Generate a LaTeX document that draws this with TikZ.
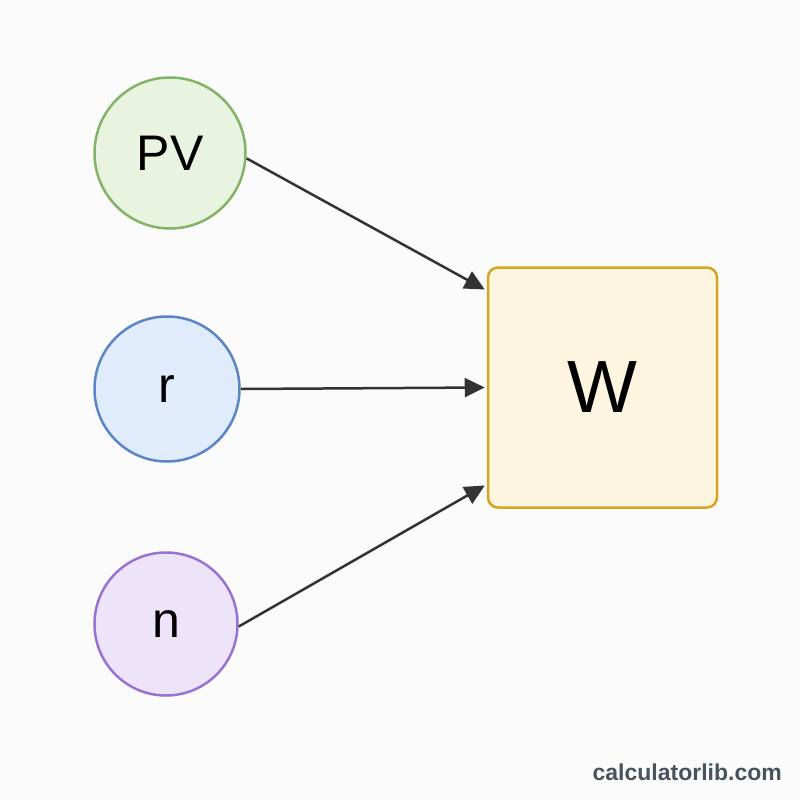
\documentclass[tikz,border=0pt]{standalone}
\usepackage{fontspec}
\setmainfont{Liberation Sans}
\usetikzlibrary{arrows.meta}
\definecolor{bgc}{HTML}{FBFBFB}
\definecolor{pvfill}{HTML}{E8F3E0}
\definecolor{pvdraw}{HTML}{82B366}
\definecolor{rfill}{HTML}{E0EBFC}
\definecolor{rdraw}{HTML}{5A86C6}
\definecolor{nfill}{HTML}{EDE4FA}
\definecolor{ndraw}{HTML}{9873D0}
\definecolor{wfill}{HTML}{FDF5E0}
\definecolor{wdraw}{HTML}{D6A520}
\definecolor{arr}{HTML}{333333}
\definecolor{mark}{HTML}{4A5260}
\tikzset{
  var/.style={circle, line width=2.5pt, inner sep=0pt, font=\fontsize{50}{56}\selectfont},
  res/.style={rectangle, rounded corners=10pt, line width=2.5pt, fill=wfill, draw=wdraw, inner sep=0pt, minimum width=229pt, minimum height=240pt, font=\fontsize{74}{80}\selectfont},
  conn/.style={line width=2.5pt, draw=arr, -{Triangle[length=20pt,width=19pt]}}
}
\begin{document}
\begin{tikzpicture}[x=1pt,y=-1pt]
\fill[bgc] (0,0) rectangle (800,800);
\useasboundingbox (0,0) rectangle (800,800);
\node[var, fill=pvfill, draw=pvdraw, minimum size=151pt] (pv) at (170,153) {PV};
\node[var, fill=rfill, draw=rdraw, minimum size=145pt] (r) at (167,389) {r};
\node[var, fill=nfill, draw=ndraw, minimum size=143pt] (n) at (166,624) {n};
\node[res] (w) at (602.5,387.5) {W};
\coordinate (t1) at ([xshift=-2pt,yshift=98pt]w.west);
\coordinate (t2) at ([xshift=-2pt]w.west);
\coordinate (t3) at ([xshift=-2pt,yshift=-98pt]w.west);
\draw[conn] (pv.-4) -- (t1);
\draw[conn] (r.east) -- (t2);
\draw[conn] (n.-2) -- (t3);
\node[font=\bfseries\fontsize{23}{26}\selectfont, text=mark, anchor=east, inner sep=0pt] (wm) at (782,772) {calculatorlib.com};
\end{tikzpicture}
\end{document}
